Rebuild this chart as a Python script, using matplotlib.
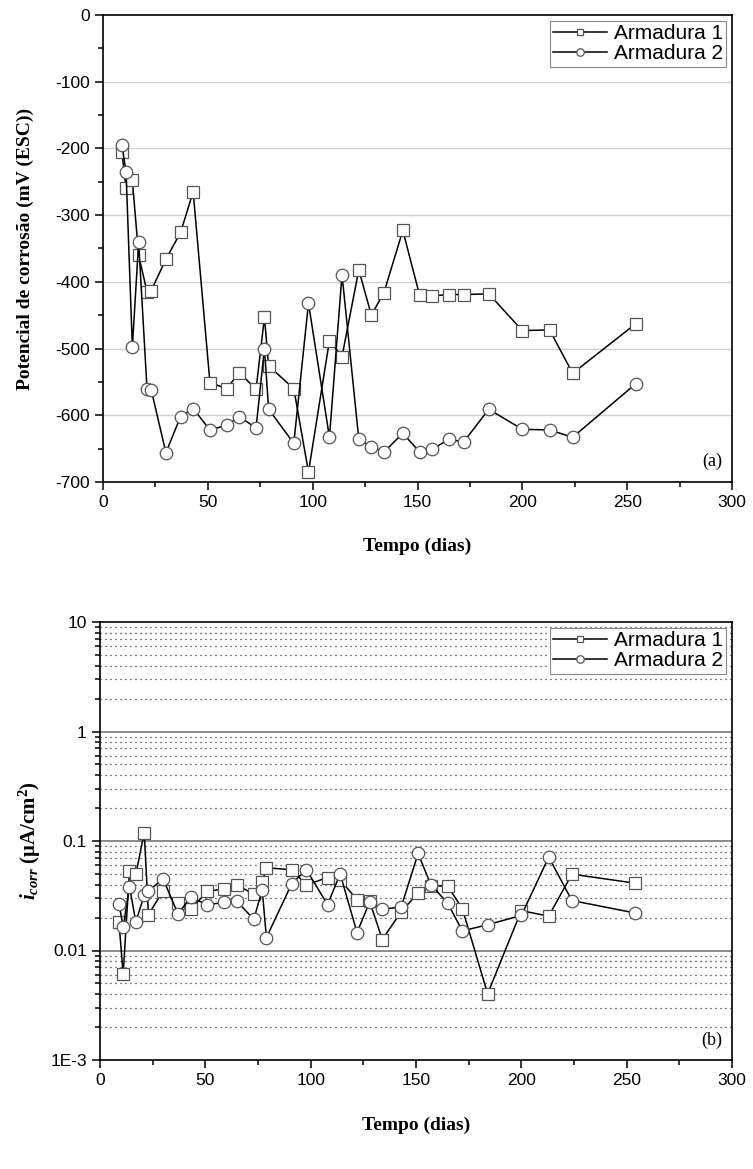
import matplotlib
matplotlib.use("Agg")
import matplotlib.pyplot as plt
from matplotlib.ticker import MultipleLocator, FixedLocator, FixedFormatter, NullFormatter

# dias de medição
dias = [9, 11, 14, 17, 21, 23, 30, 37, 43, 51, 59, 65, 73, 77, 79, 91, 98, 108,
        114, 122, 128, 134, 143, 151, 157, 165, 172, 184, 200, 213, 224, 254]

# potencial de corrosão (mV ESC)
ecorr_a1 = [-205, -260, -248, -360, -415, -413, -366, -326, -265, -551, -560, -536,
            -561, -453, -526, -560, -685, -488, -512, -382, -450, -416, -323, -420,
            -421, -419, -419, -418, -473, -472, -537, -463]
ecorr_a2 = [-195, -235, -498, -340, -561, -562, -656, -602, -590, -622, -615, -602,
            -619, -500, -591, -642, -432, -633, -389, -636, -647, -655, -627, -655,
            -651, -636, -640, -591, -621, -622, -633, -553]

# densidade de corrente de corrosão (uA/cm2)
icorr_a1 = [0.0181, 0.0061, 0.053, 0.0497, 0.119, 0.0213, 0.0352, 0.027, 0.0237,
            0.0348, 0.0364, 0.0397, 0.0326, 0.042, 0.057, 0.0546, 0.0397, 0.0464,
            0.044, 0.0292, 0.0281, 0.0126, 0.0226, 0.0336, 0.039, 0.0388, 0.0241,
            0.00403, 0.0231, 0.0206, 0.0498, 0.0412]
icorr_a2 = [0.0268, 0.0164, 0.0383, 0.0183, 0.0319, 0.0352, 0.0449, 0.0216, 0.0305,
            0.0262, 0.0275, 0.0281, 0.0193, 0.0357, 0.0131, 0.0407, 0.0548, 0.0262,
            0.0501, 0.0146, 0.0277, 0.0238, 0.0250, 0.077, 0.040, 0.0271, 0.0151,
            0.0172, 0.0209, 0.0713, 0.0286, 0.0220]

series = ["Armadura 1", "Armadura 2"]
log_ticks = [10, 1, 0.1, 0.01, 0.001]
log_labels = ["10", "1", "0.1", "0.01", "1E-3"]

sans = "Liberation Sans"
serif = "Liberation Serif"
plt.rcParams["axes.unicode_minus"] = False
plt.rcParams["mathtext.fontset"] = "custom"
plt.rcParams["mathtext.it"] = "Liberation Serif:italic:bold"
plt.rcParams["mathtext.rm"] = "Liberation Serif:bold"
plt.rcParams["mathtext.bf"] = "Liberation Serif:bold"

W, H = 753, 1169
fig = plt.figure(figsize=(W / 100, H / 100), dpi=100)
ax1 = fig.add_axes([103 / W, 1 - 482 / H, (732 - 103) / W, (482 - 15) / H])
ax2 = fig.add_axes([100 / W, 1 - 1060 / H, (732 - 100) / W, (1060 - 622) / H])

sq = dict(color="black", lw=1.1, marker="s", ms=8, mfc="white", mec="#555555", mew=0.9)
ci = dict(color="black", lw=1.1, marker="o", ms=9, mfc="white", mec="#555555", mew=0.9)


def style_axes(ax):
    for s in ax.spines.values():
        s.set_linewidth(1.2)
        s.set_color("black")
    ax.tick_params(which="both", direction="out", top=False, right=False,
                   width=1.1, labelsize=12.5, color="black")
    ax.tick_params(which="major", length=6)
    ax.tick_params(which="minor", length=3.5)
    for lbl in ax.get_xticklabels() + ax.get_yticklabels():
        lbl.set_fontfamily(sans)
    ax.set_xlim(0, 300)
    ax.xaxis.set_major_locator(MultipleLocator(50))
    ax.xaxis.set_minor_locator(MultipleLocator(25))
    ax.set_xlabel("Tempo (dias)", fontfamily=serif, fontweight="bold", fontsize=14)


def add_legend(ax):
    leg = ax.legend(loc="upper right", prop={"family": sans, "size": 15},
                    fancybox=False, edgecolor="#888888", framealpha=1,
                    borderaxespad=0.3, handlelength=2.6, handletextpad=0.3,
                    borderpad=0.15, labelspacing=0.05, markerscale=0.6)
    leg.get_frame().set_linewidth(0.8)


# (a) potencial
ax1.set_ylim(-700, 0)
ax1.yaxis.set_major_locator(MultipleLocator(100))
ax1.yaxis.set_minor_locator(MultipleLocator(50))
for v in range(-600, 0, 100):
    ax1.axhline(v, color="#cfcfcf", lw=1.0, zorder=0)
ax1.plot(dias, ecorr_a1, label=series[0], **sq)
ax1.plot(dias, ecorr_a2, label=series[1], **ci)
style_axes(ax1)
ax1.set_ylabel("Potencial de corrosão (mV (ESC))", fontfamily=serif,
               fontweight="bold", fontsize=14)
ax1.yaxis.set_label_coords(-0.11, 0.5)
ax1.xaxis.set_label_coords(0.5, -0.12)
ax1.text(0.985, 0.025, "(a)", transform=ax1.transAxes, ha="right", va="bottom",
         fontfamily=serif, fontsize=13)
add_legend(ax1)

# (b) icorr
ax2.set_yscale("log")
ax2.set_ylim(0.001, 10)
for dec in [0.001, 0.01, 0.1, 1]:
    for m in range(2, 10):
        ax2.axhline(dec * m, color="black", lw=0.9, ls=(0, (0.8, 3.2)), zorder=0)
for dec in [0.01, 0.1, 1]:
    ax2.axhline(dec, color="#777777", lw=1.2, zorder=0)
ax2.plot(dias, icorr_a1, label=series[0], **sq)
ax2.plot(dias, icorr_a2, label=series[1], **ci)
ax2.yaxis.set_major_locator(FixedLocator(log_ticks))
ax2.yaxis.set_major_formatter(FixedFormatter(log_labels))
minors = [dec * m for dec in [0.001, 0.01, 0.1, 1] for m in range(2, 10)]
ax2.yaxis.set_minor_locator(FixedLocator(minors))
ax2.yaxis.set_minor_formatter(NullFormatter())
style_axes(ax2)
ax2.set_ylabel(r"$i_{corr}$ ($\mathregular{\mu}$A/cm$^{2}$)", fontfamily=serif,
               fontweight="bold", fontsize=15)
ax2.yaxis.set_label_coords(-0.09, 0.5)
ax2.xaxis.set_label_coords(0.5, -0.13)
ax2.text(0.985, 0.025, "(b)", transform=ax2.transAxes, ha="right", va="bottom",
         fontfamily=serif, fontsize=13, bbox=dict(fc="white", ec="none", pad=0.5))
add_legend(ax2)

fig.savefig("out.png", dpi=100)
